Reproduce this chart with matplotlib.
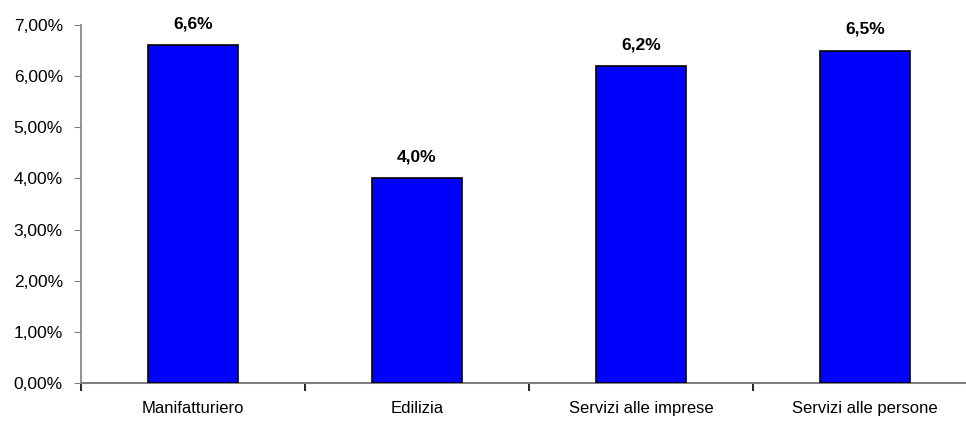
import matplotlib
matplotlib.use("Agg")
import matplotlib.pyplot as plt
from matplotlib.ticker import FuncFormatter

categories = ["Manifatturiero", "Edilizia", "Servizi alle imprese", "Servizi alle persone"]
values = [6.6, 4.0, 6.2, 6.5]
labels = ["6,6%", "4,0%", "6,2%", "6,5%"]

plt.rcParams['font.family'] = ['Liberation Sans Narrow', 'Liberation Sans', 'DejaVu Sans']

fig = plt.figure(figsize=(9.66, 4.25), dpi=100)
ax = fig.add_axes([81 / 966, 42 / 425, 896 / 966, 358 / 425])

x = range(len(categories))
ax.bar(x, values, width=0.4, color="#0000FF", edgecolor="black", linewidth=1.2, zorder=3)
for i, v in enumerate(values):
    ax.text(i, v + 0.27, labels[i], ha="center", va="bottom", fontsize=12.5, fontweight="bold")

ax.set_xlim(-0.5, 3.5)
ax.set_ylim(0, 7)
ax.set_yticks([0, 1, 2, 3, 4, 5, 6, 7])
ax.yaxis.set_major_formatter(FuncFormatter(lambda v, p: ("%.2f%%" % v).replace(".", ",")))
ax.set_xticks([-0.5, 0.5, 1.5, 2.5, 3.5])
ax.set_xticklabels([])
ax.set_xticks(list(x), minor=True)
ax.set_xticklabels(categories, minor=True)
ax.tick_params(axis="x", which="minor", length=0, pad=13, labelsize=12)
ax.tick_params(axis="x", which="major", length=6, color="black", width=1.2)
ax.tick_params(axis="y", length=5, color="gray", labelsize=12.5, pad=8)

for s in ["top", "right"]:
    ax.spines[s].set_visible(False)
ax.spines["left"].set_color("gray")
ax.spines["bottom"].set_color("gray")
ax.spines["left"].set_linewidth(1.2)
ax.spines["bottom"].set_linewidth(1.5)

fig.savefig("out.png", dpi=100)
